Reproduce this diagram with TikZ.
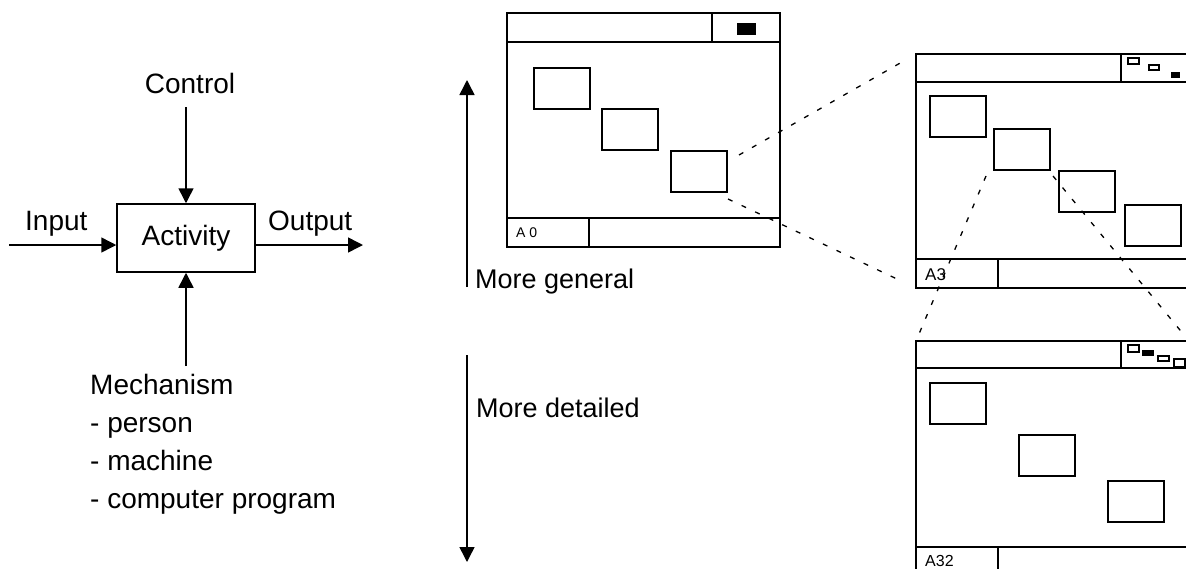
\documentclass[tikz,border=0pt]{standalone}
\usepackage{fontspec}
\setmainfont{Liberation Sans}
\usetikzlibrary{arrows.meta,calc}

\tikzset{
  txt/.style={font=\fontsize{28}{38}\selectfont, inner sep=0pt},
  act/.style={draw, line width=1.5pt, minimum width=138pt, minimum height=68pt, font=\fontsize{28}{38}\selectfont},
  flow/.style={line width=1.5pt, -{Triangle[length=15pt,width=15pt]}},
  sheet/.style={draw, line width=1.5pt, minimum width=273pt, minimum height=234pt, outer sep=0pt, inner sep=0pt},
  blk/.style={draw, line width=1.5pt, minimum width=56pt, minimum height=41pt, outer sep=0pt, inner sep=0pt},
  icon/.style={draw, line width=1.2pt},
  zoomline/.style={line width=1.3pt, dash pattern=on 5pt off 10pt},
}

\begin{document}
\begin{tikzpicture}[x=1pt,y=-1pt]
\useasboundingbox (0,0) rectangle (1186,568);
\clip (0,0) rectangle (1186,568);

% activity with its four arrows
\node [act] (act) at (186,238) {Activity};
\node [txt, anchor=base] (ctl) at (190,93) {Control};
\node [txt, anchor=base west] (inp) at (25,230) {Input};
\node [txt, anchor=base west] (outp) at (268,230) {Output};
\node [txt, anchor=north west, align=left] (mech) at (90,374)
  {Mechanism\\- person\\- machine\\- computer program};
\coordinate (ctl end) at (186,107);
\coordinate (inp end) at (9,245);
\coordinate (outp end) at (363,245);
\coordinate (mech end) at (186,366);
\draw [flow] (ctl end) -- (act.north);
\draw [flow] (inp end) -- (inp end -| act.west);
\draw [flow] (inp end -| act.east) -- (outp end);
\draw [flow] (mech end) -- (act.south);

% general / detailed
\coordinate (gen a) at (467,287);
\coordinate (gen b) at (467,80);
\coordinate (det a) at (467,355);
\coordinate (det b) at (467,562);
\draw [flow] (gen a) -- (gen b);
\draw [flow] (det a) -- (det b);
\node [txt, font=\fontsize{27}{30}\selectfont, anchor=base west] (gen) at (475,288) {More general};
\node [txt, font=\fontsize{27}{30}\selectfont, anchor=base west] (det) at (476,417) {More detailed};

% sheet A0
\begin{scope}[shift={(507,13)}]
\node [sheet] (a0) at (136.5,117) {};
\draw [line width=1.5pt] (0,29) -- (273,29) (205,0) -- (205,29);
\draw [line width=1.5pt] (0,205) -- (273,205) (82,205) -- (82,234);
\fill (230,10) rectangle (249,22);
\node [blk] (a0 b1) at (55,75.5) {};
\node [blk] (a0 b2) at (123,116.5) {};
\node [blk] (a0 b3) at (192,158.5) {};
\node [anchor=base west, inner sep=0pt, font=\fontsize{14}{16}\selectfont] at (9,224) {A 0};
\end{scope}

% sheet A3
\begin{scope}[shift={(916,54)}]
\node [sheet] (a3) at (136.5,117) {};
\draw [line width=1.5pt] (0,28) -- (273,28) (205,0) -- (205,28);
\draw [line width=1.5pt] (0,205) -- (273,205) (82,205) -- (82,234);
\draw [icon] (212,4) rectangle (223,10);
\draw [icon] (233,11) rectangle (243,16);
\fill (255,18) rectangle (264,24);
\node [blk] (a3 b1) at (42,62.5) {};
\node [blk] (a3 b2) at (106,95.5) {};
\node [blk] (a3 b3) at (171,137.5) {};
\node [blk] (a3 b4) at (237,171.5) {};
\node [anchor=base west, inner sep=0pt, font=\fontsize{17}{19}\selectfont] at (9,226) {A3};
\end{scope}

% sheet A32
\begin{scope}[shift={(916,341)}]
\node [sheet] (a32) at (136.5,117) {};
\draw [line width=1.5pt] (0,27) -- (273,27) (205,0) -- (205,27);
\draw [line width=1.5pt] (0,206) -- (273,206) (82,206) -- (82,234);
\draw [icon] (212,4) rectangle (223,11);
\fill (226,9) rectangle (238,15);
\draw [icon] (242,15) rectangle (253,20);
\draw [icon] (258,18) rectangle (269,26);
\node [blk] (a32 b1) at (42,62.5) {};
\node [blk] (a32 b2) at (131,114.5) {};
\node [blk] (a32 b3) at (220,160.5) {};
\node [anchor=base west, inner sep=0pt, font=\fontsize{16}{18}\selectfont] at (9,225.5) {A32};
\end{scope}

% zoom lines
\draw [zoomline, shorten >=15pt] ($(a0 b3.north east)+(12,4)$) -- (a3.north west);
\draw [zoomline, shorten >=15pt] ($(a0 b3.south east)+(1,7)$) -- (a3.south west);
\draw [zoomline, shorten >=9pt] ($(a3 b2.south west)+(-8,6)$) -- (a32.north west);
\draw [zoomline, shorten >=10pt] ($(a3 b2.south east)+(3,6)$) -- (a32.north east);
\end{tikzpicture}
\end{document}
